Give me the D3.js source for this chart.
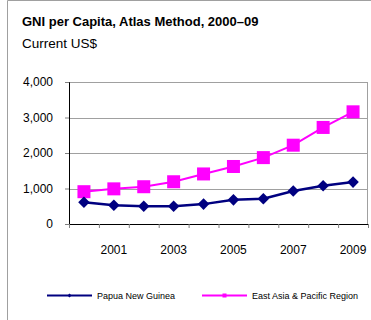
<!DOCTYPE html>
<html>
<head>
<meta charset="utf-8">
<script src="https://cdn.jsdelivr.net/npm/d3@7"></script>
<style>
  html, body { margin: 0; padding: 0; background: #fff; }
  svg { display: block; font-family: "Liberation Sans", Arial, sans-serif; }
</style>
</head>
<body>
<svg width="371" height="320"></svg>
<script>
// chart data
const years = [2000, 2001, 2002, 2003, 2004, 2005, 2006, 2007, 2008, 2009];
const tickYears = [2001, 2003, 2005, 2007, 2009];
const png = [610, 530, 500, 500, 560, 680, 710, 930, 1080, 1180];
const eap = [910, 990, 1050, 1190, 1410, 1620, 1870, 2220, 2720, 3160];
const yTicks = [0, 1000, 2000, 3000, 4000];
const seriesNames = ["Papua New Guinea", "East Asia & Pacific Region"];
const seriesColors = ["#000080", "#ff00ff"];

const svg = d3.select("svg");
const margin = {top: 82, left: 69, right: 3, bottom: 96};
const W = 371, H = 320;
const innerW = W - margin.left - margin.right;
const innerH = H - margin.top - margin.bottom;

// frame
svg.append("path")
    .attr("d", "M7.5,320 V0.5 H371")
    .attr("fill", "none")
    .attr("stroke", "#a0a0a0")
    .attr("stroke-width", 1);

svg.append("text")
    .attr("x", 22).attr("y", 26)
    .attr("font-size", "13px").attr("font-weight", "bold")
    .text("GNI per Capita, Atlas Method, 2000–09");
svg.append("text")
    .attr("x", 22).attr("y", 48)
    .attr("font-size", "13.5px")
    .text("Current US$");

const x = d3.scaleBand().domain(years).range([0, innerW]);
const y = d3.scaleLinear().domain([0, 4000]).range([innerH, 0]);

const g = svg.append("g")
    .attr("transform", "translate(" + margin.left + "," + margin.top + ")");

// gridlines
g.selectAll("line.grid").data(yTicks.filter(d => d > 0))
    .enter().append("line")
        .attr("class", "grid")
        .attr("x1", 0).attr("x2", innerW)
        .attr("y1", d => Math.round(y(d)) + 0.5)
        .attr("y2", d => Math.round(y(d)) + 0.5)
        .attr("stroke", "#a0a0a0");

// right plot border
g.append("line")
    .attr("x1", innerW - 0.5).attr("x2", innerW - 0.5)
    .attr("y1", y(4000)).attr("y2", innerH)
    .attr("stroke", "#a0a0a0");

// y axis
const yAxis = g.append("g")
    .call(d3.axisLeft(y).tickValues(yTicks).tickSize(4).tickPadding(12)
        .tickFormat(d3.format(",")));
yAxis.select(".domain").attr("stroke", "#000");
yAxis.selectAll(".tick line").attr("stroke", "#808080");
yAxis.selectAll("text").attr("font-size", "12px").attr("font-family", null).attr("fill", "#000");

// x axis
const xAxis = g.append("g")
    .attr("transform", "translate(0," + innerH + ")")
    .call(d3.axisBottom(x).tickValues([]).tickSize(0));
xAxis.select(".domain").attr("stroke", "#000").attr("stroke-width", 1.2);
g.selectAll("line.xtick").data(years.concat([null]))
    .enter().append("line")
        .attr("class", "xtick")
        .attr("x1", (d, i) => i * x.step() + 0.5)
        .attr("x2", (d, i) => i * x.step() + 0.5)
        .attr("y1", innerH).attr("y2", innerH + 4)
        .attr("stroke", "#808080");
g.selectAll("text.xlab").data(tickYears)
    .enter().append("text")
        .attr("class", "xlab")
        .attr("x", d => x(d) + x.bandwidth() / 2)
        .attr("y", innerH + 30)
        .attr("text-anchor", "middle")
        .attr("font-size", "12px")
        .text(d => d);

const line = d3.line()
    .x((d, i) => x(years[i]) + x.bandwidth() / 2)
    .y(d => y(d));

// lines
[png, eap].forEach(function(vals, k) {
    g.append("path")
        .attr("d", line(vals))
        .attr("fill", "none")
        .attr("stroke", seriesColors[k])
        .attr("stroke-width", k == 0 ? 2.5 : 2);
});

// markers
g.selectAll("rect.sq").data(eap)
    .enter().append("rect")
        .attr("class", "sq")
        .attr("x", (d, i) => x(years[i]) + x.bandwidth() / 2 - 6.5)
        .attr("y", d => y(d) - 6.5)
        .attr("width", 13).attr("height", 13)
        .attr("fill", seriesColors[1]);

const diamond = d3.symbol().type(d3.symbolDiamond2).size(85);
g.selectAll("path.dm").data(png)
    .enter().append("path")
        .attr("class", "dm")
        .attr("d", diamond)
        .attr("transform", (d, i) => "translate(" + (x(years[i]) + x.bandwidth() / 2) + "," + y(d) + ")")
        .attr("fill", seriesColors[0]);

// legend
const legendX = [47, 202];
seriesNames.forEach(function(name, k) {
    const lg = svg.append("g").attr("transform", "translate(" + legendX[k] + ",295.5)");
    lg.append("line")
        .attr("x1", 0).attr("x2", 45)
        .attr("stroke", seriesColors[k]).attr("stroke-width", 2);
    if (k == 0) {
        lg.append("path")
            .attr("d", d3.symbol().type(d3.symbolDiamond2).size(10))
            .attr("transform", "translate(22.5,0)")
            .attr("fill", seriesColors[k]);
    } else {
        lg.append("rect")
            .attr("x", 20.5).attr("y", -2).attr("width", 4).attr("height", 4)
            .attr("fill", seriesColors[k]);
    }
    lg.append("text")
        .attr("x", 50).attr("y", 3)
        .attr("font-size", "9px")
        .text(name);
});
</script>
</body>
</html>
